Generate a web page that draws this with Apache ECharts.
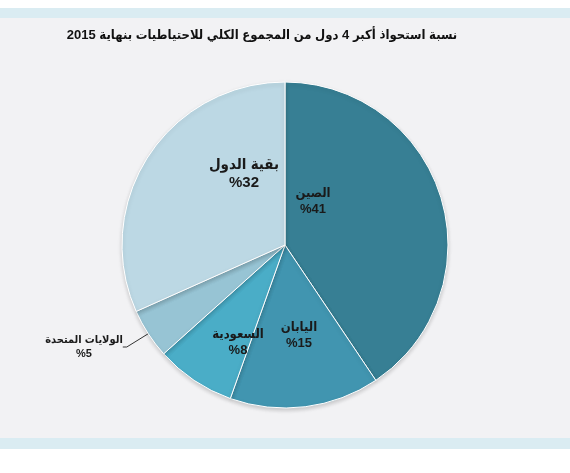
<!DOCTYPE html>
<html>
  <head>
    <meta charset="UTF-8" />
    <title>الاحتياطيات 2015</title>
    <script src="https://cdn.jsdelivr.net/npm/echarts@6/dist/echarts.min.js"></script>
    <style>
      html, body { margin: 0; padding: 0; background: #ffffff; }
      #wrap { position: relative; width: 570px; height: 473px; }
      .band { position: absolute; left: 0; width: 570px; background: #daecf2; }
      #panel { position: absolute; left: 0; top: 18px; width: 570px; height: 420px; background: #f2f2f4; }
      #chart { position: absolute; left: 0; top: 0; width: 570px; height: 473px; }
    </style>
  </head>
  <body>
    <div id="wrap">
      <div class="band" style="top: 8px; height: 10px"></div>
      <div id="panel"></div>
      <div class="band" style="top: 438px; height: 11px"></div>
      <div id="chart"></div>
    </div>
    <script type="text/javascript">
      // البيانات
      var titleText = "نسبة استحواذ أكبر 4 دول من المجموع الكلي للاحتياطيات بنهاية 2015";
      var countries = ["الصين", "اليابان", "السعودية", "الولايات المتحدة", "بقية الدول"];
      var shares = [41, 15, 8, 5, 32];
      var colors = ["#377f94", "#4195b0", "#4aadc7", "#97c4d4", "#bcd8e4"];

      // مواضع النصوص (مركز كتلة النص)
      var labelPos = [
        [313, 201],
        [299, 335],
        [238, 342],
        [84, 347],
        [244, 174],
      ];

      var arFont = 'Arial, "DejaVu Sans Condensed", "DejaVu Sans", sans-serif';

      var myChart = echarts.init(document.getElementById("chart"));

      var pieData = countries.map(function (name, i) {
        var big = i === 4;
        return {
          name: name,
          value: shares[i],
          itemStyle: { color: colors[i] },
          label: {
            position: i === 3 ? "outside" : "inside",
            fontSize: big ? 15 : i === 3 ? 11 : 13,
            lineHeight: big ? 18 : i === 3 ? 14 : 16,
          },
          labelLine: { show: i === 3 },
        };
      });

      var option = {
        backgroundColor: "transparent",
        animation: false,
        title: {
          text: titleText,
          left: 257,
          top: 24,
          textAlign: "center",
          textStyle: {
            fontFamily: arFont,
            fontWeight: "bold",
            fontSize: 13,
            color: "#111111",
          },
        },
        series: [
          {
            type: "pie",
            center: [285, 245],
            radius: [0, 163],
            startAngle: 90,
            clockwise: true,
            itemStyle: {
              borderColor: "#ffffff",
              borderWidth: 1,
              shadowBlur: 4,
              shadowOffsetY: 2,
              shadowColor: "rgba(0, 0, 0, 0.18)",
            },
            label: {
              show: true,
              color: "#1a1a1a",
              fontWeight: "bold",
              fontFamily: arFont,
              align: "center",
              formatter: function (p) {
                return p.name + "\n%" + p.value;
              },
            },
            labelLine: {
              length: 24,
              length2: 4,
              lineStyle: { color: "#333333", width: 1 },
            },
            labelLayout: function (params) {
              var pos = labelPos[params.dataIndex];
              return {
                x: pos[0],
                y: pos[1],
                align: "center",
                verticalAlign: "middle",
              };
            },
            emphasis: { disabled: true },
            data: pieData,
          },
        ],
      };

      myChart.setOption(option);
    </script>
  </body>
</html>
